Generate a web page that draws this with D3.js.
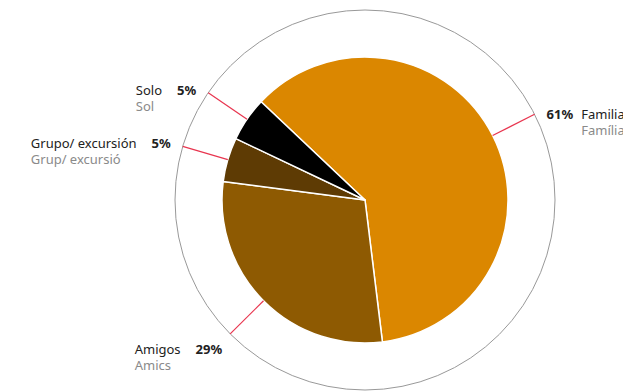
<!DOCTYPE html>
<html>
<head>
<meta charset="utf-8">
<script src="https://cdn.jsdelivr.net/npm/d3@7"></script>
<style>
  html, body { margin: 0; padding: 0; background: #fff; }
  svg { display: block; font-family: "Noto Sans", sans-serif; }
</style>
</head>
<body>
<div id="chart"></div>
<script>
// slice data, in drawing order (clockwise)
var categories = ["Familia", "Amigos", "Grupo/ excursión", "Solo"];
var subLabels = ["Família", "Amics", "Grup/ excursió", "Sol"];
var values = [61, 29, 5, 5];
var colors = ["#db8700", "#8e5a02", "#5e3b04", "#000000"];

var width = 623, height = 391;
var cx = 365, cy = 200;
var radius = 143, ringRadius = 190;
var startAngle = -46.6 * Math.PI / 180;
var fontSize = 13;

var svg = d3.select("#chart").append("svg")
    .attr("width", width)
    .attr("height", height);

var g = svg.append("g").attr("transform", "translate(" + cx + "," + cy + ")");

// outer ring
g.append("circle")
    .attr("r", ringRadius)
    .attr("fill", "none")
    .attr("stroke", "#999")
    .attr("stroke-width", 1);

var data = categories.map(function (c, i) {
    return { name: c, sub: subLabels[i], value: values[i], color: colors[i] };
});

var pie = d3.pie()
    .sort(null)
    .value(function (d) { return d.value; })
    .startAngle(startAngle)
    .endAngle(startAngle + 2 * Math.PI);

var arc = d3.arc().innerRadius(0).outerRadius(radius);
var arcs = pie(data);

g.selectAll("path.slice")
    .data(arcs)
    .enter().append("path")
    .attr("class", "slice")
    .attr("d", arc)
    .attr("fill", function (d) { return d.data.color; })
    .attr("stroke", "#fff")
    .attr("stroke-width", 1.5)
    .attr("stroke-linejoin", "round");

function pointAt(a, r) {
    return [Math.sin(a) * r, -Math.cos(a) * r];
}
function midAngle(d) { return (d.startAngle + d.endAngle) / 2; }

// leader lines
g.selectAll("line.leader")
    .data(arcs)
    .enter().append("line")
    .attr("class", "leader")
    .attr("x1", function (d) { return pointAt(midAngle(d), radius)[0]; })
    .attr("y1", function (d) { return pointAt(midAngle(d), radius)[1]; })
    .attr("x2", function (d) { return pointAt(midAngle(d), ringRadius)[0]; })
    .attr("y2", function (d) { return pointAt(midAngle(d), ringRadius)[1]; })
    .attr("stroke", "#e8354f")
    .attr("stroke-width", 1.2);

// labels
var labels = g.selectAll("g.label")
    .data(arcs)
    .enter().append("g")
    .attr("class", "label");

labels.each(function (d) {
    var a = midAngle(d);
    var p = pointAt(a, ringRadius);
    var right = Math.sin(a) > 0;
    var bottom = Math.cos(a) < 0;
    var y = p[1] + (bottom ? 20 : (right ? 5 : 2));
    var el = d3.select(this);

    var pct = el.append("text")
        .attr("y", y)
        .attr("font-size", fontSize)
        .attr("font-weight", "bold")
        .attr("fill", "#222")
        .text(d.data.value + "%");

    if (right) {
        var x0 = p[0] + 12;
        pct.attr("x", x0).attr("text-anchor", "start");
        var nx = x0 + pct.node().getComputedTextLength() + 8;
        el.append("text").attr("x", nx).attr("y", y)
            .attr("font-size", fontSize).attr("fill", "#222").text(d.data.name);
        el.append("text").attr("x", nx).attr("y", y + 16)
            .attr("font-size", fontSize).attr("fill", "#8a8a8a").text(d.data.sub);
    } else {
        var x1 = p[0] - (bottom ? 8 : 12);
        pct.attr("x", x1).attr("text-anchor", "end");
        var pw = pct.node().getComputedTextLength();
        var name = el.append("text").attr("y", y)
            .attr("font-size", fontSize).attr("fill", "#222").text(d.data.name);
        var nw = name.node().getComputedTextLength();
        var nx2 = x1 - pw - 15 - nw;
        name.attr("x", nx2);
        el.append("text").attr("x", nx2).attr("y", y + 16)
            .attr("font-size", fontSize).attr("fill", "#8a8a8a").text(d.data.sub);
    }
});
</script>
</body>
</html>
